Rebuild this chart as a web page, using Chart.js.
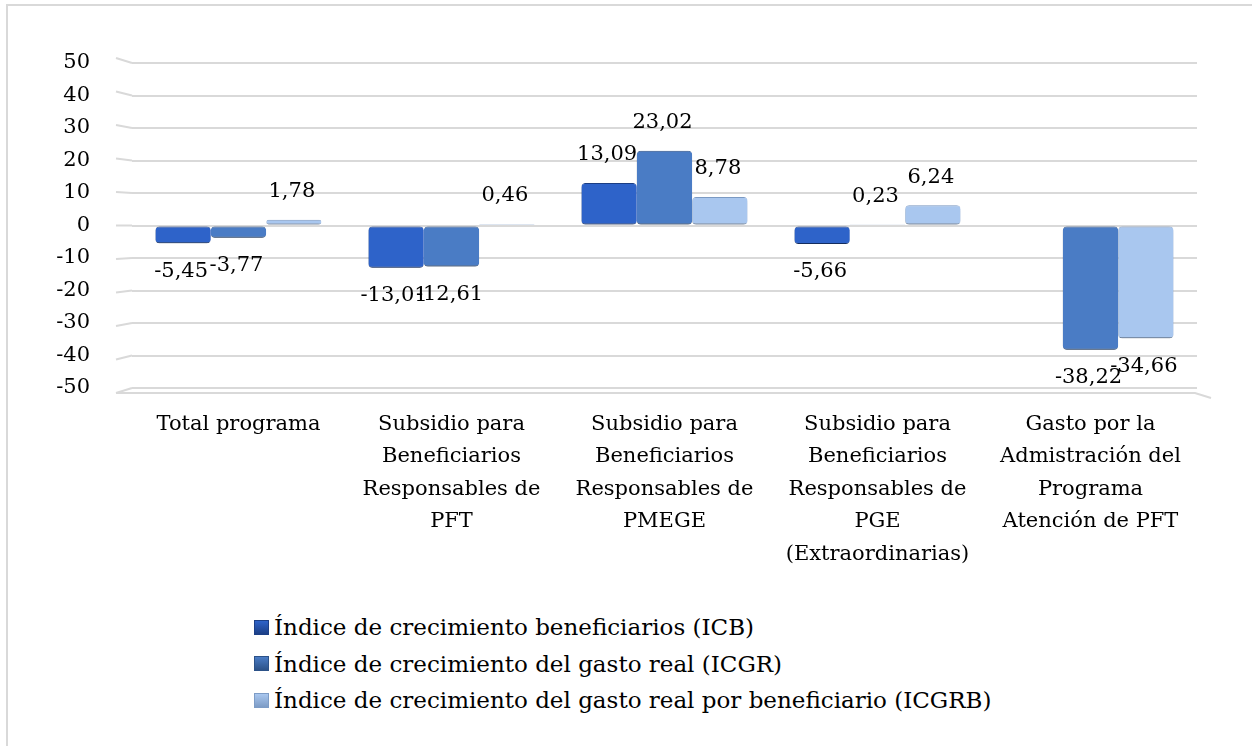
<!DOCTYPE html>
<html>
<head>
<meta charset="utf-8">
<script src="https://cdn.jsdelivr.net/npm/chart.js@4"></script>
<style>
  html, body { margin: 0; padding: 0; background: #fff; }
  #page { position: relative; width: 1252px; height: 746px; overflow: hidden; font-family: 'DejaVu Serif', serif; }
  #frame { position: absolute; left: 6px; top: 4px; width: 1400px; height: 900px; border-left: 2px solid #d9d9d9; border-top: 2px solid #d9d9d9; box-sizing: border-box; }
  #wrap { position: absolute; left: 0; top: 0; width: 1252px; height: 600px; }
  #legend { position: absolute; left: 254px; top: 609px; font-size: 23px; color: #000; }
  .lg-item { display: flex; align-items: center; height: 36.5px; }
  .lg-box { width: 15px; height: 15px; margin-right: 5px; box-sizing: border-box; }
</style>
</head>
<body>
<div id="page">
  <div id="frame"></div>
  <div id="wrap"><canvas id="chart" width="1252" height="600"></canvas></div>
  <div id="legend"></div>
</div>
<script>
// ── Data
const categories = [
  'Total programa',
  ['Subsidio para', 'Beneficiarios', 'Responsables de', 'PFT'],
  ['Subsidio para', 'Beneficiarios', 'Responsables de', 'PMEGE'],
  ['Subsidio para', 'Beneficiarios', 'Responsables de', 'PGE', '(Extraordinarias)'],
  ['Gasto por la', 'Admistración del', 'Programa', 'Atención de PFT'],
];
const seriesNames = [
  'Índice de crecimiento beneficiarios (ICB)',
  'Índice de crecimiento del gasto real (ICGR)',
  'Índice de crecimiento del gasto real por beneficiario (ICGRB)',
];
const icb   = [-5.45, -13.01, 13.09, -5.66, null];
const icgr  = [-3.77, -12.61, 23.02, 0.23, -38.22];
const icgrb = [1.78, 0.46, 8.78, 6.24, -34.66];
const yMin = -50, yMax = 50, yStep = 10;

// ── Colors
const COLORS = ['#2e63c9', '#4a7cc5', '#a9c7ef'];
const EDGES  = ['#1c3f86', '#2c5288', '#7d9cc6'];
const FONT   = "'DejaVu Serif', serif";

const fmt = v => v.toFixed(2).replace('.', ',');

// left perspective stubs on the grid + floor line
const gridStubs = {
  id: 'gridStubs',
  beforeDatasetsDraw(chart) {
    const { ctx, chartArea } = chart;
    const y = chart.scales.y;
    ctx.save();
    ctx.strokeStyle = '#d9d9d9';
    ctx.lineWidth = 2;
    for (let v = yMin; v <= yMax; v += yStep) {
      const py = y.getPixelForValue(v);
      ctx.beginPath();
      ctx.moveTo(chartArea.left - 16, py - v * 0.1);
      ctx.lineTo(chartArea.left, py);
      ctx.stroke();
    }
    // floor edge
    const fy = y.getPixelForValue(yMin);
    ctx.beginPath();
    ctx.moveTo(chartArea.left - 16, fy + 5);
    ctx.lineTo(chartArea.right - 2, fy + 5);
    ctx.lineTo(chartArea.right + 14, fy + 10);
    ctx.stroke();
    ctx.restore();
  }
};

// soft shadow under each bar
const barShadow = {
  id: 'barShadow',
  beforeDatasetDraw(chart) {
    const ctx = chart.ctx;
    ctx.save();
    ctx.shadowColor = 'rgba(0,0,0,0.35)';
    ctx.shadowBlur = 3;
    ctx.shadowOffsetX = -1;
    ctx.shadowOffsetY = 2;
  },
  afterDatasetDraw(chart) {
    chart.ctx.restore();
  }
};

// value labels above/below bars
const valueLabels = {
  id: 'valueLabels',
  afterDatasetsDraw(chart) {
    const ctx = chart.ctx;
    ctx.save();
    ctx.font = '21px ' + FONT;
    ctx.fillStyle = '#000';
    ctx.textAlign = 'center';
    ctx.textBaseline = 'middle';
    chart.data.datasets.forEach((ds, di) => {
      chart.getDatasetMeta(di).data.forEach((el, i) => {
        const v = ds.data[i];
        if (v === null || v === undefined) return;
        const py = v >= 0 ? el.y - 28 : el.y + 28;
        ctx.fillText(fmt(v), el.x - 2, py);
      });
    });
    ctx.restore();
  }
};

const seriesData = [icb, icgr, icgrb];

new Chart(document.getElementById('chart'), {
  type: 'bar',
  data: {
    labels: categories,
    datasets: seriesData.map((d, i) => ({
      label: seriesNames[i],
      data: d,
      backgroundColor: COLORS[i],
      borderColor: EDGES[i],
      borderWidth: { bottom: 1, top: 1, left: 0, right: 0 },
      borderSkipped: false,
      borderRadius: 4,
      categoryPercentage: 0.78,
      barPercentage: 1.0,
    })),
  },
  options: {
    responsive: false,
    animation: false,
    layout: { padding: { top: 63, right: 55, bottom: 0, left: 0 } },
    plugins: {
      legend: { display: false },
      tooltip: { enabled: false },
    },
    scales: {
      x: {
        grid: { display: false },
        border: { display: false },
        ticks: {
          color: '#000',
          font: { family: FONT, size: 21, lineHeight: 1.55 },
          maxRotation: 0,
          autoSkip: false,
          padding: 12,
        },
        afterFit: s => { s.height = 212; },
      },
      y: {
        min: yMin,
        max: yMax,
        grid: { color: '#d9d9d9', lineWidth: 2, drawTicks: false },
        border: { display: false },
        ticks: {
          stepSize: yStep,
          color: '#000',
          font: { family: FONT, size: 21 },
          padding: 42,
        },
        afterFit: s => { s.width = 132; },
      },
    },
  },
  plugins: [gridStubs, barShadow, valueLabels],
});

// ── HTML legend (one item per row, left aligned)
const legend = document.getElementById('legend');
seriesNames.forEach((name, i) => {
  const item = document.createElement('div');
  item.className = 'lg-item';
  item.innerHTML = `
    <div class="lg-box" style="background:linear-gradient(180deg, ${COLORS[i]}, ${EDGES[i]});border:1px solid ${EDGES[i]};"></div>
    <span>${name}</span>
  `;
  legend.appendChild(item);
});
</script>
</body>
</html>
